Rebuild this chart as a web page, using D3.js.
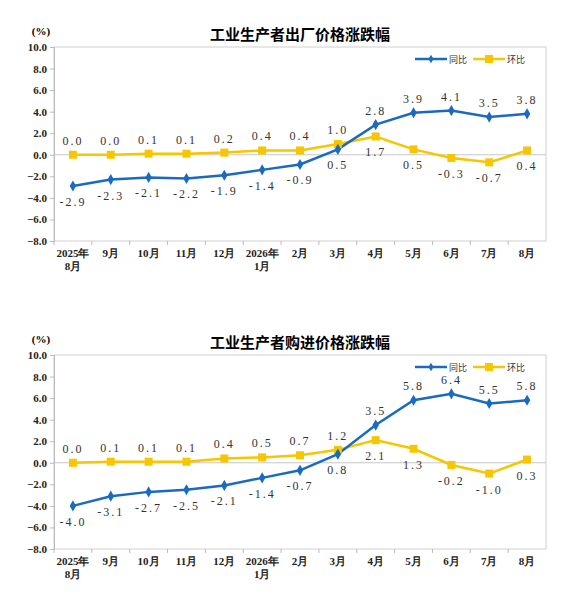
<!DOCTYPE html>
<html><head><meta charset="utf-8">
<script src="https://cdn.jsdelivr.net/npm/d3@7"></script>
<style>body{margin:0;background:#fff}</style>
</head><body>
<svg id="c" width="577" height="612"></svg>
<script>
// categories and series
const months = ['2025年|8月','9月','10月','11月','12月','2026年|1月','2月','3月','4月','5月','6月','7月','8月']
const yTicks = [10, 8, 6, 4, 2, 0, -2, -4, -6, -8]
const ppiYoy = [-2.9,-2.3,-2.1,-2.2,-1.9,-1.4,-0.9,0.5,2.8,3.9,4.1,3.5,3.8]
const ppiMom = [0.0,0.0,0.1,0.1,0.2,0.4,0.4,1.0,1.7,0.5,-0.3,-0.7,0.4]
const pirmYoy = [-4.0,-3.1,-2.7,-2.5,-2.1,-1.4,-0.7,0.8,3.5,5.8,6.4,5.5,5.8]
const pirmMom = [0.0,0.1,0.1,0.1,0.4,0.5,0.7,1.2,2.1,1.3,-0.2,-1.0,0.3]
// which series' label goes on top, per month (1 = 同比 above)
const yoyAbove1 = [0,0,0,0,0,0,0,0,1,1,1,1,1]
const yoyAbove2 = [0,0,0,0,0,0,0,0,1,1,1,1,1]

const BLUE = '#1a6ac4', YEL = '#f6c600'
const svg = d3.select('#c')
const serif = '"Liberation Serif","DejaVu Serif",serif'

function chart(top, title, yoy, mom, yoyAbove) {
    const g = svg.append('g').attr('transform', `translate(0,${top})`)
    const x = d3.scaleBand().domain(months).range([54, 546])
    const y = d3.scaleLinear().domain([-8, 10]).range([221, 27])
    const cx = d => x(d) + x.bandwidth() / 2

    g.append('text').attr('x', 300).attr('y', 20).attr('text-anchor', 'middle')
        .attr('font-family', '"Noto Sans CJK SC"').attr('font-weight', 'bold').attr('font-size', 15)
        .text(title)
    g.append('text').attr('x', 41).attr('y', 15).attr('text-anchor', 'middle')
        .attr('font-family', serif).attr('font-weight', 'bold').attr('font-size', 11).text('(%)')

    g.append('rect').attr('x', 54).attr('y', y(10)).attr('width', 492).attr('height', y(-8) - y(10))
        .attr('fill', 'none').attr('stroke', '#d0d0d0')

    const ya = g.append('g').attr('transform', 'translate(54,0)')
        .call(d3.axisLeft(y).tickValues(yTicks).tickSize(4).tickFormat(d3.format('.1f')))
    ya.select('.domain').attr('stroke', '#bbb')
    ya.selectAll('line').attr('stroke', '#bbb')
    ya.selectAll('text').attr('font-family', serif).attr('font-weight', 'bold').attr('font-size', 11).attr('fill', '#222')

    g.append('line').attr('x1', 54).attr('x2', 546).attr('y1', y(0)).attr('y2', y(0)).attr('stroke', '#c8c8c8')
    // x axis category separators
    const xa = g.append('g').attr('transform', `translate(0,${y(-8)})`)
    xa.selectAll('line').data(months).enter().append('line')
        .attr('x1', d => x(d)).attr('x2', d => x(d)).attr('y1', 0).attr('y2', 4).attr('stroke', '#bbb')
    const xl = xa.selectAll('text').data(months).enter().append('text')
        .attr('text-anchor', 'middle').attr('font-family', serif).attr('font-weight', 'bold')
        .attr('font-size', 11).attr('fill', '#222')
    xl.each(function (d) {
        const parts = d.split('|')
        parts.forEach((p, i) => d3.select(this).append('tspan').attr('x', cx(d)).attr('y', 16 + i * 13).text(p))
    })

    const line = d3.line().x((d, i) => cx(months[i])).y(d => y(d))
    g.append('path').datum(mom).attr('d', line).attr('fill', 'none').attr('stroke', YEL).attr('stroke-width', 2.5)
    g.append('path').datum(yoy).attr('d', line).attr('fill', 'none').attr('stroke', BLUE).attr('stroke-width', 2.5)
    g.selectAll('.sq').data(mom).enter().append('rect')
        .attr('x', (d, i) => cx(months[i]) - 4).attr('y', d => y(d) - 4).attr('width', 8).attr('height', 8).attr('fill', YEL)
    g.selectAll('.dm').data(yoy).enter().append('path')
        .attr('d', d3.symbol(d3.symbolDiamond, 36)())
        .attr('transform', (d, i) => `translate(${cx(months[i])},${y(d)})`).attr('fill', BLUE)

    const lbl = (vals, abovePred) => g.selectAll(null).data(vals).enter().append('text')
        .attr('x', (d, i) => cx(months[i]))
        .attr('y', (d, i) => abovePred(i) ? y(d) - 10 : y(d) + 20)
        .attr('text-anchor', 'middle').attr('font-family', serif).attr('font-size', 12)
        .attr('letter-spacing', 2).attr('fill', '#333')
        .text(d => d.toFixed(1))
    lbl(yoy, i => yoyAbove[i])
    lbl(mom, i => !yoyAbove[i])

    // legend
    const lg = g.append('g').attr('transform', `translate(415,${y(10) + 12})`)
    lg.append('line').attr('x1', 0).attr('x2', 32).attr('stroke', BLUE).attr('stroke-width', 2.5)
    lg.append('path').attr('d', d3.symbol(d3.symbolDiamond, 22)()).attr('transform', 'translate(16,0)').attr('fill', BLUE)
    lg.append('text').attr('x', 34).attr('y', 4).attr('font-family', '"Noto Sans CJK SC"').attr('font-size', 9).attr('fill', '#333').text('同比')
    lg.append('line').attr('x1', 58).attr('x2', 90).attr('stroke', YEL).attr('stroke-width', 2.5)
    lg.append('rect').attr('x', 70).attr('y', -4).attr('width', 8).attr('height', 8).attr('fill', YEL)
    lg.append('text').attr('x', 92).attr('y', 4).attr('font-family', '"Noto Sans CJK SC"').attr('font-size', 9).attr('fill', '#333').text('环比')
}

chart(20, '工业生产者出厂价格涨跌幅', ppiYoy, ppiMom, yoyAbove1)
chart(328, '工业生产者购进价格涨跌幅', pirmYoy, pirmMom, yoyAbove2)
</script>
</body></html>
